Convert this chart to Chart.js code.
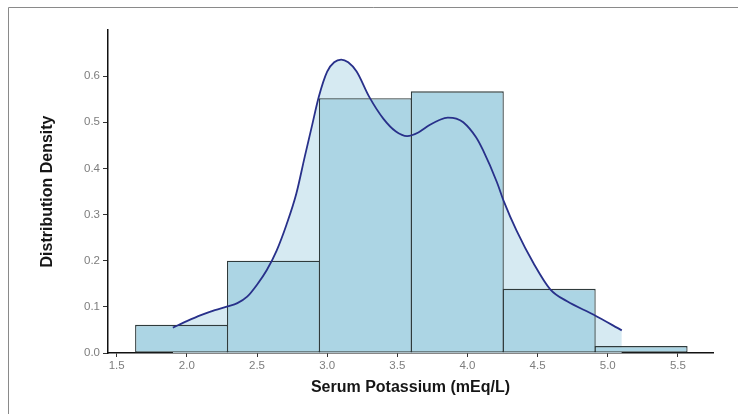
<!DOCTYPE html>
<html>
<head>
<meta charset="utf-8">
<script src="https://cdn.jsdelivr.net/npm/chart.js@4/dist/chart.umd.min.js"></script>
<style>
  html, body { margin: 0; padding: 0; background: #ffffff; }
  #wrap { width: 738px; height: 414px; }
</style>
</head>
<body>
<div id="wrap"><canvas id="chart" width="738" height="414"></canvas></div>
<script>
// Histogram bins (left edges, common width) and their density heights
const binStart = [1.635, 2.29, 2.945, 3.60, 4.255, 4.91];
const binWidth = 0.655;
const binDensity = [0.061, 0.200, 0.552, 0.567, 0.139, 0.015];

// Kernel density estimate of serum potassium
const kdeX = [1.90, 2.00, 2.10, 2.20, 2.29, 2.36, 2.43, 2.50, 2.57, 2.64, 2.71, 2.78, 2.84, 2.89, 2.94,
              3.00, 3.05, 3.10, 3.15, 3.21, 3.30, 3.40, 3.49, 3.57, 3.65, 3.73, 3.80, 3.86, 3.92, 3.97,
              4.06, 4.11, 4.21, 4.26, 4.35, 4.47, 4.59, 4.71, 4.90, 5.10];
const kdeY = [0.055, 0.069, 0.082, 0.093, 0.101, 0.108, 0.122, 0.148, 0.180, 0.222, 0.278, 0.345, 0.425, 0.490, 0.555,
              0.610, 0.630, 0.636, 0.630, 0.610, 0.555, 0.508, 0.480, 0.470, 0.478, 0.494, 0.505, 0.510, 0.508, 0.500,
              0.468, 0.440, 0.370, 0.328, 0.265, 0.195, 0.138, 0.112, 0.083, 0.049];

// Axis ticks
const xTicks = [1.5, 2.0, 2.5, 3.0, 3.5, 4.0, 4.5, 5.0, 5.5];
const yTicks = [0.0, 0.1, 0.2, 0.3, 0.4, 0.5, 0.6];
const xStep = 0.5;

const histPoints = binStart.map((s, i) => ({ x: s + binWidth / 2, y: binDensity[i] }));
const kdePoints = kdeX.map((x, i) => ({ x: x, y: kdeY[i] }));

const FONT = '"Liberation Sans", Arial, Helvetica, sans-serif';

// Thin frame around the figure
const framePlugin = {
  id: 'frame',
  beforeDraw(chart) {
    const ctx = chart.ctx;
    ctx.save();
    ctx.strokeStyle = '#8a8a8a';
    ctx.lineWidth = 1;
    ctx.beginPath();
    ctx.moveTo(8.5, 414);
    ctx.lineTo(8.5, 7.5);
    ctx.lineTo(738, 7.5);
    ctx.stroke();
    ctx.restore();
  }
};

new Chart(document.getElementById('chart'), {
  data: {
    datasets: [
      {
        type: 'line',
        label: 'density area',
        data: kdePoints,
        fill: 'origin',
        backgroundColor: '#d6eaf2',
        borderWidth: 0,
        borderColor: 'rgba(0,0,0,0)',
        pointRadius: 0,
        cubicInterpolationMode: 'monotone',
        order: 3
      },
      {
        type: 'bar',
        label: 'histogram',
        data: histPoints,
        backgroundColor: '#acd5e4',
        borderColor: '#2f3b3c',
        borderWidth: 1.3,
        borderSkipped: false,
        categoryPercentage: 1,
        // bins are wider than the tick spacing the bar ruler measures; a hair extra so neighbours share an edge
        barPercentage: (binWidth / xStep) * 1.012,
        order: 2
      },
      {
        type: 'line',
        label: 'density',
        data: kdePoints,
        fill: false,
        borderColor: '#28308a',
        borderWidth: 1.8,
        pointRadius: 0,
        cubicInterpolationMode: 'monotone',
        order: 1
      }
    ]
  },
  options: {
    responsive: false,
    animation: false,
    layout: { padding: { left: 38, right: 25, top: 30, bottom: 17 } },
    plugins: {
      legend: { display: false },
      tooltip: { enabled: false }
    },
    scales: {
      x: {
        type: 'linear',
        offset: false,
        min: 1.438,
        max: 5.75,
        afterFit(scale) { scale.height = 44; },
        afterBuildTicks(scale) { scale.ticks = xTicks.map(v => ({ value: v })); },
        ticks: {
          includeBounds: false,
          stepSize: xStep,
          color: '#7d7d7d',
          font: { family: FONT, size: 11.5 },
          padding: 2,
          maxRotation: 0,
          callback: v => Number(v).toFixed(1)
        },
        grid: { offset: false, drawOnChartArea: false, drawTicks: true, tickLength: 4, color: '#333333', lineWidth: 1 },
        border: { display: true, color: '#111111', width: 1.5 },
        title: {
          display: true,
          text: 'Serum Potassium (mEq/L)',
          color: '#161616',
          font: { family: FONT, size: 16, weight: 'bold' },
          padding: 0
        }
      },
      y: {
        type: 'linear',
        min: 0,
        max: 0.70,
        afterFit(scale) { scale.width = 70; },
        afterBuildTicks(scale) { scale.ticks = yTicks.map(v => ({ value: v })); },
        ticks: {
          color: '#7d7d7d',
          font: { family: FONT, size: 11.5 },
          padding: 3,
          callback: v => Number(v).toFixed(1)
        },
        grid: { drawOnChartArea: false, drawTicks: true, tickLength: 5, color: '#333333', lineWidth: 1 },
        border: { display: true, color: '#111111', width: 1.5 },
        title: {
          display: true,
          text: 'Distribution Density',
          color: '#161616',
          font: { family: FONT, size: 16, weight: 'bold' },
          padding: 0
        }
      }
    }
  },
  plugins: [framePlugin]
});
</script>
</body>
</html>
